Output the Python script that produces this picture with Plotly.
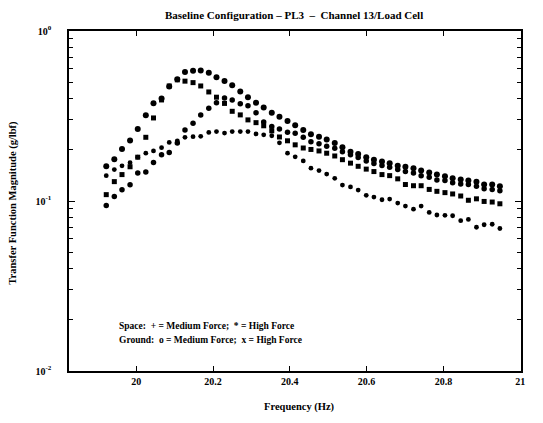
import plotly.graph_objects as go

# Frequency grid (Hz)
freq = [19.922, 19.943, 19.963, 19.984, 20.004, 20.025, 20.045, 20.066, 20.086, 20.107,
        20.127, 20.148, 20.168, 20.189, 20.209, 20.230, 20.250, 20.271, 20.291, 20.312,
        20.332, 20.353, 20.373, 20.394, 20.414, 20.435, 20.455, 20.476, 20.496, 20.517,
        20.537, 20.558, 20.578, 20.599, 20.619, 20.640, 20.660, 20.681, 20.701, 20.722,
        20.742, 20.763, 20.783, 20.804, 20.824, 20.845, 20.865, 20.886, 20.906, 20.927,
        20.947]

# Transfer function magnitude (g/lbf)
space_high = [0.160, 0.176, 0.202, 0.227, 0.265, 0.319, 0.376, 0.401, 0.471, 0.520,
              0.574, 0.584, 0.586, 0.569, 0.535, 0.508, 0.479, 0.440, 0.408, 0.379,
              0.355, 0.331, 0.313, 0.296, 0.279, 0.262, 0.247, 0.239, 0.230, 0.219,
              0.207, 0.195, 0.189, 0.181, 0.175, 0.171, 0.167, 0.161, 0.159, 0.156,
              0.151, 0.147, 0.143, 0.140, 0.136, 0.134, 0.132, 0.130, 0.125, 0.125,
              0.122]

ground_high = [0.109, 0.130, 0.143, 0.159, 0.181, 0.237, 0.308, 0.393, 0.475, 0.516,
               0.507, 0.497, 0.475, 0.438, 0.408, 0.375, 0.337, 0.321, 0.300, 0.289,
               0.277, 0.259, 0.238, 0.226, 0.214, 0.205, 0.201, 0.197, 0.191, 0.184,
               0.175, 0.167, 0.160, 0.154, 0.149, 0.143, 0.141, 0.135, 0.125, 0.123,
               0.123, 0.117, 0.114, 0.112, 0.110, 0.107, 0.101, 0.103, 0.0994, 0.0986,
               0.0963]

space_medium = [0.0942, 0.1063, 0.1165, 0.1246, 0.1460, 0.1479, 0.1684, 0.1869, 0.1928, 0.219,
                0.262, 0.287, 0.321, 0.351, 0.378, 0.404, 0.393, 0.373, 0.363, 0.330,
                0.292, 0.274, 0.265, 0.254, 0.250, 0.237, 0.223, 0.217, 0.210, 0.204,
                0.195, 0.187, 0.180, 0.172, 0.166, 0.162, 0.158, 0.153, 0.149, 0.146,
                0.141, 0.138, 0.133, 0.132, 0.128, 0.126, 0.125, 0.122, 0.118, 0.117,
                0.115]

ground_medium = [0.141, 0.153, 0.161, 0.168, 0.181, 0.191, 0.197, 0.206, 0.221, 0.226,
                 0.237, 0.239, 0.240, 0.253, 0.256, 0.251, 0.256, 0.256, 0.256, 0.248,
                 0.245, 0.242, 0.220, 0.191, 0.182, 0.172, 0.156, 0.151, 0.144, 0.136,
                 0.124, 0.121, 0.116, 0.108, 0.1055, 0.1017, 0.1027, 0.0972, 0.0934, 0.0895,
                 0.0934, 0.0857, 0.0827, 0.0824, 0.0819, 0.0766, 0.0779, 0.0701, 0.0725, 0.0730,
                 0.0689]

x_ticks = [20, 20.2, 20.4, 20.6, 20.8, 21]
x_ticklabels = ["20", "20.2", "20.4", "20.6", "20.8", "21"]
y_ticks = [0.01, 0.1, 1]
y_ticklabels = ["10<sup>-2</sup>", "10<sup>-1</sup>", "10<sup>0</sup>"]
y_minor_ticks = [0.02, 0.03, 0.04, 0.05, 0.06, 0.07, 0.08, 0.09,
                 0.2, 0.3, 0.4, 0.5, 0.6, 0.7, 0.8, 0.9]

FONT = "Liberation Serif"

fig = go.Figure()
series = [
    ("Space: High Force", space_high, "circle", 6),
    ("Ground: High Force", ground_high, "square", 5),
    ("Space: Medium Force", space_medium, "circle", 5.5),
    ("Ground: Medium Force", ground_medium, "circle", 4.8),
]
for name, vals, sym, size in series:
    fig.add_trace(go.Scatter(
        x=freq, y=vals, mode="markers", name=name, showlegend=False,
        marker=dict(symbol=sym, size=size, color="black", line=dict(width=0)),
    ))

axis_common = dict(showline=True, linecolor="black", linewidth=1.5, mirror="ticks",
                   ticks="inside", tickcolor="black", showgrid=False, zeroline=False,
                   tickfont=dict(family=FONT, size=10, color="black", weight="bold"))

fig.update_xaxes(range=[19.825, 21.002], tickvals=x_ticks, ticktext=x_ticklabels,
                 ticklen=5, tickwidth=1.2, **axis_common)
fig.update_yaxes(type="log", range=[-2, 0], tickvals=y_ticks, ticktext=y_ticklabels,
                 ticklen=6, tickwidth=1.2, ticklabelstandoff=14,
                 minor=dict(tickmode="array", tickvals=y_minor_ticks, ticks="inside",
                            ticklen=4, tickwidth=1.2, tickcolor="black", showgrid=False),
                 **axis_common)

ann_font = dict(family=FONT, color="black", weight="bold")
fig.update_layout(
    width=543, height=423,
    margin=dict(l=69, r=22, t=31, b=52),
    paper_bgcolor="white", plot_bgcolor="white",
    annotations=[
        dict(text="Baseline Configuration – PL3  –  Channel 13/Load Cell",
             xref="paper", yref="paper", x=0.498, y=1.047, showarrow=False,
             xanchor="center", yanchor="middle", font=dict(size=11, **ann_font)),
        dict(text="Transfer Function Magnitude (g/lbf)", textangle=-90,
             xref="paper", yref="paper", x=-0.124, y=0.495, showarrow=False,
             xanchor="center", yanchor="middle", font=dict(size=10.5, **ann_font)),
        dict(text="Frequency (Hz)",
             xref="paper", yref="paper", x=0.511, y=-0.107, showarrow=False,
             xanchor="center", yanchor="middle", font=dict(size=10.5, **ann_font)),
        dict(text="Space:  + = Medium Force;  * = High Force",
             xref="paper", yref="paper", x=0.106, y=0.131, showarrow=False,
             xanchor="left", yanchor="middle", font=dict(size=9.5, **ann_font)),
        dict(text="Ground:  o = Medium Force;  x = High Force",
             xref="paper", yref="paper", x=0.106, y=0.09, showarrow=False,
             xanchor="left", yanchor="middle", font=dict(size=9.5, **ann_font)),
    ],
)

fig.write_html("out.html")
